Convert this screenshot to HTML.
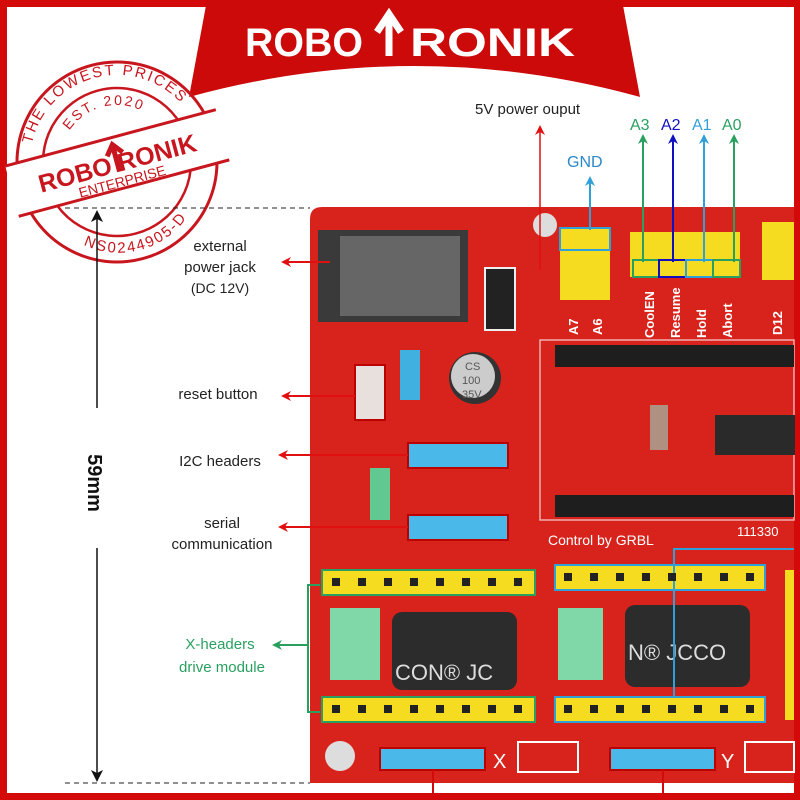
<!DOCTYPE html>
<html><head><meta charset="utf-8"><style>
html,body{margin:0;padding:0;background:#fff}
svg{display:block}
text{font-family:"Liberation Sans",sans-serif}
</style></head><body>
<svg width="800" height="800" viewBox="0 0 800 800" xmlns="http://www.w3.org/2000/svg">
<defs>
<marker id="ar" markerWidth="10" markerHeight="10" refX="8" refY="5" orient="auto" markerUnits="userSpaceOnUse"><path d="M0,0 L10,5 L0,10 L3,5 z" fill="#e01010"/></marker>
<marker id="ag" markerWidth="10" markerHeight="10" refX="8" refY="5" orient="auto" markerUnits="userSpaceOnUse"><path d="M0,0 L10,5 L0,10 L3,5 z" fill="#2aa060"/></marker>
<marker id="ab" markerWidth="10" markerHeight="10" refX="8" refY="5" orient="auto" markerUnits="userSpaceOnUse"><path d="M0,0 L10,5 L0,10 L3,5 z" fill="#30a0d8"/></marker>
<marker id="ad" markerWidth="10" markerHeight="10" refX="8" refY="5" orient="auto" markerUnits="userSpaceOnUse"><path d="M0,0 L10,5 L0,10 L3,5 z" fill="#1010c0"/></marker>
<marker id="ak" markerWidth="12" markerHeight="12" refX="10" refY="6" orient="auto" markerUnits="userSpaceOnUse"><path d="M0,0 L12,6 L0,12 L3,6 z" fill="#111"/></marker>
<path id="topArc" d="M30,162 A87,87 0 0 1 204,162"/>
<path id="innerArc" d="M60,162 A57,57 0 0 1 174,162"/>
<path id="botArc" d="M34,170 A83,83 0 0 0 200,170"/>
</defs>
<rect width="800" height="800" fill="#d40a0a"/>
<rect x="7" y="7" width="787" height="786" fill="#fff"/>
<!-- banner -->
<path d="M207,0 L622,0 L640,97 Q415,35 189,97 Z" fill="#cc0a0a"/>
<text x="245" y="56" font-size="40" font-weight="bold" fill="#fff" textLength="118" lengthAdjust="spacingAndGlyphs">ROBO</text>
<text x="410" y="56" font-size="40" font-weight="bold" fill="#fff" textLength="165" lengthAdjust="spacingAndGlyphs">RONIK</text>
<path d="M389,56 L389,18 M377,32 L389,14 L401,32" stroke="#fff" stroke-width="7" fill="none"/>
<!-- stamp -->
<g transform="rotate(-15 117 162)" fill="none" stroke="#c8161e">
<circle cx="117" cy="162" r="100" stroke-width="3"/>
<circle cx="117" cy="162" r="74" stroke-width="2.5"/>
<rect x="8" y="137" width="218" height="52" fill="#fff" stroke="none"/>
<line x1="8" y1="137" x2="226" y2="137" stroke-width="3"/>
<line x1="8" y1="189" x2="226" y2="189" stroke-width="3"/>
<text x="117" y="172" font-size="25" font-weight="bold" fill="#c8161e" stroke="none" text-anchor="middle">ROBO  RONIK</text>
<path d="M117,172 L117,146 M109,154 L117,144 L125,154" stroke="#c8161e" stroke-width="5"/>
<text x="117" y="187" font-size="14" fill="#c8161e" stroke="none" text-anchor="middle">ENTERPRISE</text>
<text font-size="15" fill="#c8161e" stroke="none" letter-spacing="2"><textPath href="#topArc" startOffset="50%" text-anchor="middle">THE LOWEST PRICES</textPath></text>
<text font-size="14" fill="#c8161e" stroke="none" letter-spacing="2"><textPath href="#innerArc" startOffset="50%" text-anchor="middle">EST. 2020</textPath></text>
<text font-size="15" fill="#c8161e" stroke="none" letter-spacing="2"><textPath href="#botArc" startOffset="50%" text-anchor="middle" dy="12">NS0244905-D</textPath></text>
</g>
<!-- dimension -->
<line x1="65" y1="208" x2="310" y2="208" stroke="#222" stroke-dasharray="5,4"/>
<line x1="65" y1="783" x2="310" y2="783" stroke="#222" stroke-dasharray="5,4"/>
<line x1="97" y1="408" x2="97" y2="212" stroke="#111" stroke-width="1.5" marker-end="url(#ak)"/>
<line x1="97" y1="548" x2="97" y2="780" stroke="#111" stroke-width="1.5" marker-end="url(#ak)"/>
<text transform="translate(88,483) rotate(90)" font-size="20" font-weight="bold" fill="#111" text-anchor="middle">59mm</text>
<!-- PCB -->
<path d="M322,207 L794,207 L794,783 L310,783 L310,219 Q310,207 322,207 Z" fill="#d8231c"/>
<rect x="540" y="340" width="254" height="180" fill="none" stroke="#f0b0b0" stroke-width="1.5"/>
<!-- jack -->
<rect x="318" y="230" width="150" height="92" fill="#3a3a3a"/>
<rect x="340" y="236" width="120" height="80" fill="#666"/>
<rect x="485" y="268" width="30" height="62" fill="#222" stroke="#eee" stroke-width="2"/>
<circle cx="545" cy="225" r="12" fill="#ddd"/>
<!-- top headers -->
<rect x="560" y="228" width="50" height="72" fill="#f5dc20"/>
<rect x="560" y="228" width="50" height="22" fill="none" stroke="#30a0d8" stroke-width="2"/>
<rect x="630" y="232" width="110" height="45" fill="#f5dc20"/>
<rect x="633" y="260" width="26" height="17" fill="none" stroke="#2aa060" stroke-width="2"/>
<rect x="659" y="260" width="27" height="17" fill="none" stroke="#1010c0" stroke-width="2"/>
<rect x="686" y="260" width="27" height="17" fill="none" stroke="#30a0d8" stroke-width="2"/>
<rect x="713" y="260" width="27" height="17" fill="none" stroke="#2aa060" stroke-width="2"/>
<rect x="762" y="222" width="32" height="58" fill="#f5dc20"/>
<g font-size="13" fill="#fff" font-family="Liberation Mono" font-weight="bold">
<text transform="translate(578,335) rotate(-90)">A7</text>
<text transform="translate(602,335) rotate(-90)">A6</text>
<text transform="translate(654,338) rotate(-90)">CoolEN</text>
<text transform="translate(680,338) rotate(-90)">Resume</text>
<text transform="translate(706,338) rotate(-90)">Hold</text>
<text transform="translate(732,338) rotate(-90)">Abort</text>
<text transform="translate(782,335) rotate(-90)">D12</text>
</g>
<!-- black headers -->
<rect x="555" y="345" width="239" height="22" fill="#1e1e1e"/>
<rect x="555" y="495" width="239" height="22" fill="#1e1e1e"/>
<rect x="715" y="415" width="80" height="40" fill="#2a2a2a"/>
<rect x="650" y="405" width="18" height="45" fill="#b09080"/>
<!-- reset etc -->
<rect x="355" y="365" width="30" height="55" fill="#e8e0dc" stroke="#b00" stroke-width="2"/>
<rect x="400" y="350" width="20" height="50" fill="#40b0e0"/>
<circle cx="475" cy="378" r="26" fill="#333"/>
<circle cx="473" cy="376" r="22" fill="#ccc"/>
<text x="465" y="370" font-size="11" fill="#555">CS</text>
<text x="462" y="384" font-size="11" fill="#555">100</text>
<text x="462" y="398" font-size="11" fill="#555">35V</text>
<rect x="408" y="443" width="100" height="25" fill="#4ab8e8" stroke="#b00" stroke-width="2"/>
<rect x="408" y="515" width="100" height="25" fill="#4ab8e8" stroke="#b00" stroke-width="2"/>
<rect x="370" y="468" width="20" height="52" fill="#60c890"/>
<text x="548" y="545" font-size="14" fill="#fff" font-family="Liberation Mono">Control by GRBL</text>
<text x="737" y="536" font-size="13" fill="#fff" font-family="Liberation Mono">111330</text>
<!-- X driver -->
<rect x="322" y="570" width="213" height="25" fill="#f5dc20" stroke="#2aa060" stroke-width="2"/>
<rect x="322" y="697" width="213" height="25" fill="#f5dc20" stroke="#2aa060" stroke-width="2"/>
<rect x="330" y="608" width="50" height="72" fill="#80d8a8"/>
<rect x="392" y="612" width="125" height="78" rx="10" fill="#2c2c2c"/>
<text x="395" y="680" font-size="22" fill="#ddd" font-family="Liberation Serif">CON® JC</text>
<!-- Y driver -->
<rect x="555" y="565" width="210" height="25" fill="#f5dc20" stroke="#30a0d8" stroke-width="2"/>
<rect x="555" y="697" width="210" height="25" fill="#f5dc20" stroke="#30a0d8" stroke-width="2"/>
<rect x="558" y="608" width="45" height="72" fill="#80d8a8"/>
<rect x="625" y="605" width="125" height="82" rx="10" fill="#2c2c2c"/>
<text x="628" y="660" font-size="22" fill="#ddd" font-family="Liberation Serif">N® JCCO</text>
<rect x="785" y="570" width="9" height="150" fill="#f5dc20"/>
<polyline points="674,697 674,549 794,549" fill="none" stroke="#30a0d8" stroke-width="2"/>
<g fill="#222">
<rect x="332" y="578" width="8" height="8"/><rect x="358" y="578" width="8" height="8"/><rect x="384" y="578" width="8" height="8"/><rect x="410" y="578" width="8" height="8"/><rect x="436" y="578" width="8" height="8"/><rect x="462" y="578" width="8" height="8"/><rect x="488" y="578" width="8" height="8"/><rect x="514" y="578" width="8" height="8"/>
<rect x="332" y="705" width="8" height="8"/><rect x="358" y="705" width="8" height="8"/><rect x="384" y="705" width="8" height="8"/><rect x="410" y="705" width="8" height="8"/><rect x="436" y="705" width="8" height="8"/><rect x="462" y="705" width="8" height="8"/><rect x="488" y="705" width="8" height="8"/><rect x="514" y="705" width="8" height="8"/>
<rect x="564" y="573" width="8" height="8"/><rect x="590" y="573" width="8" height="8"/><rect x="616" y="573" width="8" height="8"/><rect x="642" y="573" width="8" height="8"/><rect x="668" y="573" width="8" height="8"/><rect x="694" y="573" width="8" height="8"/><rect x="720" y="573" width="8" height="8"/><rect x="746" y="573" width="8" height="8"/>
<rect x="564" y="705" width="8" height="8"/><rect x="590" y="705" width="8" height="8"/><rect x="616" y="705" width="8" height="8"/><rect x="642" y="705" width="8" height="8"/><rect x="668" y="705" width="8" height="8"/><rect x="694" y="705" width="8" height="8"/><rect x="720" y="705" width="8" height="8"/><rect x="746" y="705" width="8" height="8"/>
</g>
<!-- bottom -->
<circle cx="340" cy="756" r="15" fill="#ddd"/>
<rect x="380" y="748" width="105" height="22" fill="#4ab8e8" stroke="#b00" stroke-width="2"/>
<rect x="610" y="748" width="105" height="22" fill="#4ab8e8" stroke="#b00" stroke-width="2"/>
<text x="493" y="768" font-size="20" fill="#fff">X</text>
<text x="721" y="768" font-size="20" fill="#fff">Y</text>
<rect x="518" y="742" width="60" height="30" fill="none" stroke="#fff" stroke-width="2"/>
<rect x="745" y="742" width="49" height="30" fill="none" stroke="#fff" stroke-width="2"/>
<line x1="433" y1="770" x2="433" y2="794" stroke="#d40a0a" stroke-width="2"/>
<line x1="663" y1="770" x2="663" y2="794" stroke="#d40a0a" stroke-width="2"/>
<!-- left labels -->
<g font-size="15" fill="#222" text-anchor="middle">
<text x="220" y="251">external</text>
<text x="220" y="272">power jack</text>
<text x="220" y="293" font-size="14">(DC 12V)</text>
<text x="218" y="399">reset button</text>
<text x="220" y="466">I2C headers</text>
<text x="222" y="528">serial</text>
<text x="222" y="549">communication</text>
<text x="220" y="649" fill="#2aa060">X-headers</text>
<text x="222" y="672" fill="#2aa060">drive module</text>
</g>
<line x1="330" y1="262" x2="283" y2="262" stroke="#e01010" stroke-width="2" marker-end="url(#ar)"/>
<line x1="355" y1="396" x2="283" y2="396" stroke="#e01010" stroke-width="2" marker-end="url(#ar)"/>
<line x1="408" y1="455" x2="280" y2="455" stroke="#e01010" stroke-width="2" marker-end="url(#ar)"/>
<line x1="408" y1="527" x2="280" y2="527" stroke="#e01010" stroke-width="2" marker-end="url(#ar)"/>
<polyline points="320,585 308,585 308,712 320,712" fill="none" stroke="#2aa060" stroke-width="2"/>
<line x1="308" y1="645" x2="274" y2="645" stroke="#2aa060" stroke-width="2" marker-end="url(#ag)"/>
<!-- top labels -->
<text x="475" y="114" font-size="15" fill="#222">5V power ouput</text>
<line x1="540" y1="270" x2="540" y2="127" stroke="#e01010" stroke-width="1.5" marker-end="url(#ar)"/>
<text x="567" y="167" font-size="16" fill="#2a88c8">GND</text>
<line x1="590" y1="230" x2="590" y2="178" stroke="#30a0d8" stroke-width="2" marker-end="url(#ab)"/>
<text x="630" y="130" font-size="16" fill="#2aa060">A3</text>
<text x="661" y="130" font-size="16" fill="#1010c0">A2</text>
<text x="692" y="130" font-size="16" fill="#30a0d8">A1</text>
<text x="722" y="130" font-size="16" fill="#2aa060">A0</text>
<line x1="643" y1="262" x2="643" y2="136" stroke="#2aa060" stroke-width="2" marker-end="url(#ag)"/>
<line x1="673" y1="262" x2="673" y2="136" stroke="#1010c0" stroke-width="2" marker-end="url(#ad)"/>
<line x1="704" y1="262" x2="704" y2="136" stroke="#30a0d8" stroke-width="2" marker-end="url(#ab)"/>
<line x1="734" y1="262" x2="734" y2="136" stroke="#2aa060" stroke-width="2" marker-end="url(#ag)"/>
</svg>
</body></html>
